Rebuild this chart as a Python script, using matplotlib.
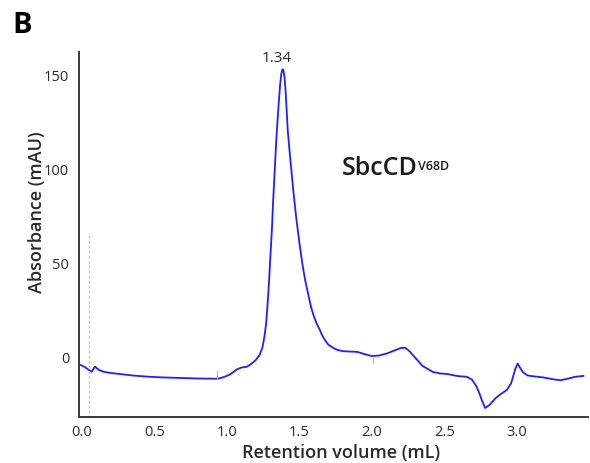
import matplotlib
matplotlib.use("Agg")
import matplotlib.pyplot as plt

# Retention volume (mL) and absorbance (mAU)
volume = [-0.01, 0.02, 0.05, 0.067, 0.09, 0.12, 0.15, 0.20, 0.26, 0.35, 0.45, 0.55,
          0.68, 0.80, 0.93, 0.96, 0.99, 1.02, 1.05, 1.07, 1.10, 1.14, 1.17, 1.20,
          1.225, 1.245, 1.26, 1.27, 1.28, 1.29, 1.30, 1.31, 1.32, 1.33, 1.34, 1.35,
          1.36, 1.367, 1.375, 1.383, 1.39, 1.397, 1.405, 1.42, 1.44, 1.46, 1.48, 1.50, 1.52,
          1.54, 1.56, 1.58, 1.60, 1.62, 1.64, 1.66, 1.68, 1.70, 1.73, 1.76, 1.80,
          1.85, 1.90, 1.95, 2.00, 2.05, 2.10, 2.15, 2.20, 2.23, 2.26, 2.30, 2.35,
          2.42, 2.47, 2.52, 2.59, 2.655, 2.69, 2.72, 2.74, 2.756, 2.78, 2.81, 2.85,
          2.88, 2.93, 2.96, 2.99, 3.005, 3.02, 3.04, 3.07, 3.10, 3.18, 3.25, 3.30,
          3.35, 3.40, 3.46]
absorbance = [-3.7, -4.8, -6.5, -7.3, -4.6, -6.5, -7.3, -8.0, -8.5, -9.3, -9.9, -10.3,
              -10.6, -10.9, -11.0, -10.6, -9.8, -8.8, -7.2, -6.0, -5.1, -4.6, -3.0, -1.0,
              1.5, 5.5, 12, 18, 28, 40, 54, 68, 85, 100, 115, 127,
              138, 145, 150.5, 153, 152.5, 149, 141, 120, 103, 87, 73, 61, 50,
              41, 34, 27, 22, 18, 15, 11.5, 9, 7, 5.5, 4.3, 3.6,
              3.4, 3.2, 2.0, 1.0, 1.3, 2.3, 3.8, 5.3, 5.4, 3.5, 0.0, -4.3,
              -7.4, -8.2, -8.5, -9.6, -10.0, -11.5, -15.0, -18.5, -22.0, -26.5, -25.0, -21.5,
              -19.6, -17.0, -13.4, -5.5, -3.0, -5.0, -7.4, -9.2, -9.6, -10.3, -11.3, -11.8,
              -11.0, -10.0, -9.5]

peak_volume = 1.34
peak_label = "1.34"
inject_volume = 0.05
fraction_marks = [0.93, 2.01]
x_ticks = [0.0, 0.5, 1.0, 1.5, 2.0, 2.5, 3.0]
y_ticks = [0, 50, 100, 150]

FONT = ["Open Sans", "DejaVu Sans"]
plt.rcParams["font.family"] = FONT
TXT = "#2a2a2a"

fig = plt.figure(figsize=(5.9, 4.63), dpi=100)
ax = fig.add_axes([79 / 590, 46 / 463, 509 / 590, 365 / 463])

ax.plot(volume, absorbance, color="#1f1fff", lw=1.3, solid_joinstyle="round",
        solid_capstyle="round")

# injection marker (faint pink dotted line)
ax.plot([inject_volume, inject_volume], [-32, 65], color="#f0a6f0", lw=0.9,
        ls=(0, (2, 2)))
# faint fraction ticks
ax.plot([fraction_marks[0]] * 2, [-10.5, -7.0], color="#9fb0ff", lw=0.8)
ax.plot([fraction_marks[1]] * 2, [-2.5, 0.2], color="#9fb0ff", lw=0.8)

ax.set_xlim(-0.02, 3.49)
ax.set_ylim(-31.3, 162.2)
ax.set_xticks(x_ticks)
ax.set_xticklabels([f"{v:.1f}" for v in x_ticks])
ax.set_yticks(y_ticks)
ax.tick_params(axis="both", length=0, labelsize=10.5, colors=TXT)
ax.tick_params(axis="y", pad=7)
ax.tick_params(axis="x", pad=6)

for s in ["top", "right"]:
    ax.spines[s].set_visible(False)
for s in ["left", "bottom"]:
    ax.spines[s].set_color("#3a3a3a")
    ax.spines[s].set_linewidth(1.4)

ax.set_xlabel("Retention volume (mL)", fontsize=13, fontweight="semibold", color=TXT)
ax.set_ylabel("Absorbance (mAU)", fontsize=13, fontweight="semibold", color=TXT)
ax.xaxis.set_label_coords(0.515, -0.074)
ax.yaxis.set_label_coords(-0.065, 0.56)

ax.text(peak_volume, 155, peak_label, ha="center", va="bottom", fontsize=11, color=TXT)

t = ax.text(1.793, 97, "SbcCD", ha="left", va="baseline", fontsize=18,
            fontweight="semibold", color="#1a1a1a")
ax.annotate("V68D", xy=(1, 1), xycoords=t, xytext=(0.5, -3), textcoords="offset points",
            ha="left", va="top", fontsize=9, fontweight="semibold", color="#1a1a1a")

fig.text(12 / 590, 1 - 33 / 463, "B", ha="left", va="baseline", fontsize=21,
         fontweight="bold", color="black")

fig.savefig("out.png", dpi=100)
